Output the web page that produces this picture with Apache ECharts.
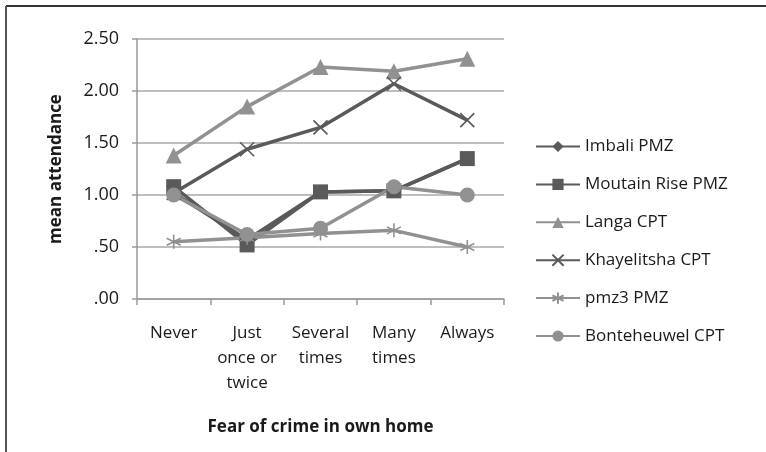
<!DOCTYPE html>
<html>
<head>
<meta charset="utf-8">
<script src="https://cdn.jsdelivr.net/npm/echarts@6/dist/echarts.min.js"></script>
<style>
  html, body { margin: 0; padding: 0; background: #fff; }
  #chart { width: 766px; height: 452px; }
</style>
</head>
<body>
<div id="chart"></div>
<script>
// categories on the x axis
var categories = ["Never", "Just\nonce or\ntwice", "Several\ntimes", "Many\ntimes", "Always"];

// mean attendance per site
var imbali = [1.02, 0.57, 1.03, 1.04, 1.35];
var moutainRise = [1.08, 0.52, 1.03, 1.04, 1.35];
var langa = [1.38, 1.85, 2.23, 2.19, 2.31];
var khayelitsha = [1.02, 1.44, 1.65, 2.07, 1.72];
var pmz3 = [0.55, 0.59, 0.63, 0.66, 0.50];
var bonteheuwel = [1.00, 0.62, 0.68, 1.08, 1.00];

var dark = "#5a5a5a";
var light = "#919191";
var crossPath = "path://M0,0L10,10M10,0L0,10";
var starPath = "path://M5,0L5,10M0.7,2.5L9.3,7.5M9.3,2.5L0.7,7.5";

var makeSeries = function(name, data, color, symbol, size, stroke) {
    return {
        name: name,
        type: "line",
        data: data,
        symbol: symbol,
        symbolSize: size,
        showAllSymbol: true,
        lineStyle: { color: color, width: 3.5 },
        itemStyle: stroke
            ? { color: color, borderColor: color, borderWidth: 1.6 }
            : { color: color },
        emphasis: { disabled: true },
        animation: false
    };
};

var chart = echarts.init(document.getElementById("chart"));
chart.setOption({
    animation: false,
    textStyle: { fontFamily: "'Open Sans', sans-serif" },
    graphic: [
        { type: "line", shape: { x1: 6, y1: 6, x2: 766, y2: 6 }, style: { stroke: "#333", lineWidth: 2 } },
        { type: "line", shape: { x1: 6, y1: 6, x2: 6, y2: 452 }, style: { stroke: "#555", lineWidth: 2 } }
    ],
    grid: { left: 137, right: 262, top: 39, bottom: 153 },
    legend: {
        orient: "vertical",
        left: 535,
        top: 138,
        padding: 0,
        itemWidth: 44,
        itemHeight: 14,
        itemGap: 20.9,
        textStyle: { fontSize: 17, color: "#1a1a1a", lineHeight: 16 },
        data: ["Imbali PMZ", "Moutain Rise PMZ", "Langa CPT", "Khayelitsha CPT", "pmz3 PMZ", "Bonteheuwel CPT"]
    },
    xAxis: {
        type: "category",
        data: categories,
        name: "Fear of crime in own home",
        nameLocation: "middle",
        nameGap: 120,
        nameTextStyle: { fontSize: 17, fontWeight: "bold", color: "#1a1a1a" },
        axisLine: { lineStyle: { color: "#9a9a9a", width: 1.5 } },
        axisTick: { show: true, length: 6, lineStyle: { color: "#9a9a9a", width: 1.5 } },
        axisLabel: { fontSize: 17, color: "#1a1a1a", lineHeight: 25, margin: 22, interval: 0 }
    },
    yAxis: {
        type: "value",
        min: 0,
        max: 2.5,
        interval: 0.5,
        name: "mean attendance",
        nameLocation: "middle",
        nameGap: 72,
        nameTextStyle: { fontSize: 17, fontWeight: "bold", color: "#1a1a1a" },
        axisLine: { show: true, lineStyle: { color: "#9a9a9a", width: 1.5 } },
        axisTick: { show: true, length: 5, lineStyle: { color: "#9a9a9a", width: 1.5 } },
        splitLine: { lineStyle: { color: "#a8a8a8", width: 1.5 } },
        axisLabel: {
            fontSize: 18,
            color: "#1a1a1a",
            margin: 18,
            formatter: function(v) {
                var s = v.toFixed(2);
                return s.charAt(0) === "0" ? s.slice(1) : s;
            }
        }
    },
    series: [
        makeSeries("Imbali PMZ", imbali, dark, "diamond", 12, false),
        makeSeries("Moutain Rise PMZ", moutainRise, dark, "rect", 15, false),
        makeSeries("Langa CPT", langa, light, "triangle", 16, false),
        makeSeries("Khayelitsha CPT", khayelitsha, dark, crossPath, 14, true),
        makeSeries("pmz3 PMZ", pmz3, light, starPath, 14, true),
        makeSeries("Bonteheuwel CPT", bonteheuwel, light, "circle", 15, false)
    ]
});
</script>
</body>
</html>
